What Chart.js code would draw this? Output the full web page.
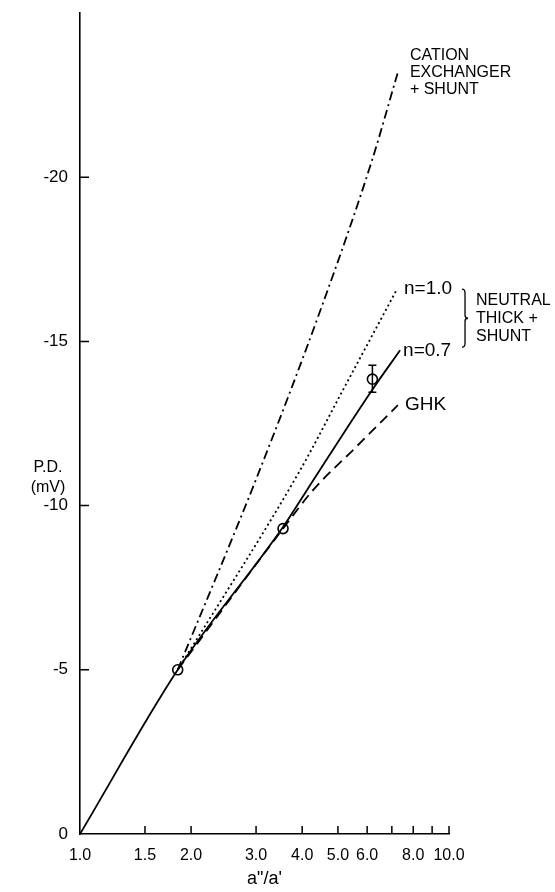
<!DOCTYPE html>
<html>
<head>
<meta charset="utf-8">
<script src="https://cdn.jsdelivr.net/npm/chart.js@4.4.0/dist/chart.umd.min.js"></script>
<style>
  html, body { margin: 0; padding: 0; background: #fff; }
</style>
</head>
<body>
<canvas id="chart" width="555" height="892"></canvas>
<script>
/* tick values on the two axes */
const xTicks = [1, 1.5, 2, 3, 4, 5, 6, 7, 8, 9, 10];
const xLabelled = [1, 1.5, 2, 3, 4, 5, 6, 8, 10];
const yTicks = [-20, -15, -10, -5, 0];

/* neutral thick membrane + shunt, n = 0.7 (solid) */
const solidX = [1.0, 1.84, 3.55, 4.12, 6.19, 7.37];
const solidY = [0, -5.0, -9.35, -10.47, -13.52, -14.73];

/* neutral thick membrane + shunt, n = 1.0 (dotted) */
const dotX = [1.84, 2.0, 3.95, 5.16, 7.23];
const dotY = [-5.0, -5.65, -11.08, -13.52, -16.59];

/* GHK (dashed) */
const ghkX = [1.84, 3.55, 4.28, 5.56, 7.27];
const ghkY = [-5.0, -9.3, -10.47, -11.75, -13.06];

/* cation exchanger + shunt (dash-dot) */
const catX = [1.84, 3.0, 4.5, 6.18, 7.27];
const catY = [-5.0, -10.8, -16.0, -20.5, -23.2];

/* measured points with error bars */
const measX = [1.84, 3.55, 6.2];
const measY = [-5.0, -9.3, -13.85];
const errLo = [null, null, -14.27];
const errHi = [null, null, -13.45];

function pts(xs, ys) { return xs.map((x, i) => ({x: x, y: ys[i]})); }

const FONT = '"Liberation Sans", Arial, sans-serif';

/* draws inward tick marks, error bars, y title and the curve labels */
const extras = {
  id: 'extras',
  afterDraw(chart) {
    const ctx = chart.ctx;
    const xs = chart.scales.x, ys = chart.scales.y;
    const area = chart.chartArea;
    ctx.save();
    ctx.strokeStyle = '#000';
    ctx.lineWidth = 1.5;
    ctx.beginPath();
    xTicks.forEach(v => {
      if (v === 1) return;
      const px = xs.getPixelForValue(v);
      ctx.moveTo(px, area.bottom);
      ctx.lineTo(px, area.bottom - 8);
    });
    yTicks.forEach(v => {
      if (v === 0) return;
      const py = ys.getPixelForValue(v);
      ctx.moveTo(area.left, py);
      ctx.lineTo(area.left + 9, py);
    });
    ctx.stroke();

    /* error bars */
    ctx.beginPath();
    measX.forEach((x, i) => {
      if (errLo[i] === null) return;
      const px = xs.getPixelForValue(x);
      const p1 = ys.getPixelForValue(errLo[i]);
      const p2 = ys.getPixelForValue(errHi[i]);
      ctx.moveTo(px, p1); ctx.lineTo(px, p2);
      ctx.moveTo(px - 4, p1); ctx.lineTo(px + 4, p1);
      ctx.moveTo(px - 4, p2); ctx.lineTo(px + 4, p2);
    });
    ctx.stroke();

    ctx.fillStyle = '#000';
    ctx.textBaseline = 'middle';

    /* y axis title, horizontal */
    ctx.font = '16px ' + FONT;
    ctx.textAlign = 'center';
    const ty = ys.getPixelForValue(-11.1);
    ctx.fillText('P.D.', 48, ty - 2);
    ctx.fillText('(mV)', 48, ty + 18);

    /* curve labels, anchored at each curve's end */
    const end = (i) => { const d = chart.getDatasetMeta(i).data; return d[d.length - 1]; };
    ctx.textAlign = 'left';
    const eSolid = end(0), eDot = end(1), eGhk = end(2), eCat = end(3);

    ctx.font = '19px ' + FONT;
    ctx.fillText('n=1.0', eDot.x + 7, eDot.y);
    ctx.fillText('n=0.7', eSolid.x + 3, eSolid.y);
    ctx.fillText('GHK', eGhk.x + 7, eGhk.y);

    ctx.font = '16px ' + FONT;
    ctx.fillText('CATION', eCat.x + 12, eCat.y - 17);
    ctx.fillText('EXCHANGER', eCat.x + 12, eCat.y);
    ctx.fillText('+ SHUNT', eCat.x + 12, eCat.y + 17);

    /* brace grouping n=1.0 and n=0.7 */
    const bx = eDot.x + 68, bt = eDot.y, bb = eSolid.y - 3, bm = (bt + bb) / 2;
    ctx.lineWidth = 1.3;
    ctx.beginPath();
    ctx.moveTo(bx - 3, bt);
    ctx.quadraticCurveTo(bx, bt, bx, bt + 4);
    ctx.lineTo(bx, bm - 3);
    ctx.quadraticCurveTo(bx, bm, bx + 3, bm);
    ctx.quadraticCurveTo(bx, bm, bx, bm + 3);
    ctx.lineTo(bx, bb - 4);
    ctx.quadraticCurveTo(bx, bb, bx - 3, bb);
    ctx.stroke();

    ctx.fillText('NEUTRAL', bx + 11, bm - 18);
    ctx.fillText('THICK +', bx + 11, bm);
    ctx.fillText('SHUNT', bx + 11, bm + 18);
    ctx.restore();
  }
};

const lineBase = {
  type: 'line',
  borderColor: '#000',
  borderWidth: 1.8,
  pointRadius: 0,
  fill: false,
  cubicInterpolationMode: 'monotone'
};

new Chart(document.getElementById('chart'), {
  data: {
    datasets: [
      Object.assign({}, lineBase, {label: 'n=0.7', data: pts(solidX, solidY)}),
      Object.assign({}, lineBase, {label: 'n=1.0', data: pts(dotX, dotY), borderDash: [2, 3]}),
      Object.assign({}, lineBase, {label: 'GHK', data: pts(ghkX, ghkY), borderDash: [10, 6]}),
      Object.assign({}, lineBase, {label: 'cation', data: pts(catX, catY), borderDash: [9, 4, 2, 4]}),
      {
        type: 'scatter',
        label: 'measured',
        data: pts(measX, measY),
        pointRadius: 5,
        pointBorderWidth: 1.6,
        pointBorderColor: '#000',
        pointBackgroundColor: '#fff'
      }
    ]
  },
  options: {
    responsive: false,
    animation: false,
    devicePixelRatio: 1,
    layout: {padding: {top: 13, right: 106, left: 0, bottom: 0}},
    plugins: {legend: {display: false}, tooltip: {enabled: false}},
    scales: {
      x: {
        type: 'logarithmic',
        min: 1,
        max: 10,
        afterBuildTicks: (s) => { s.ticks = xTicks.map(v => ({value: v})); },
        afterFit: (s) => { s.height = 58; s.paddingLeft = 0; s.paddingRight = 0; },
        grid: {display: false, drawTicks: false},
        border: {display: true, color: '#000', width: 1.6},
        ticks: {
          color: '#000',
          font: {family: FONT, size: 16},
          padding: 12,
          maxRotation: 0,
          autoSkip: false,
          callback: (v) => xLabelled.includes(v) ? v.toFixed(1) : ''
        },
        title: {display: true, text: 'a"/a\'', color: '#000', font: {family: FONT, size: 18}, padding: {top: 2, bottom: 2}}
      },
      y: {
        type: 'linear',
        min: -25,
        max: 0,
        reverse: true,
        afterBuildTicks: (s) => { s.ticks = yTicks.map(v => ({value: v})); },
        afterFit: (s) => { s.width = 80; s.paddingTop = 0; s.paddingBottom = 0; },
        grid: {display: false, drawTicks: false},
        border: {display: true, color: '#000', width: 1.6},
        ticks: {color: '#000', font: {family: FONT, size: 17}, padding: 12}
      }
    }
  },
  plugins: [extras]
});
</script>
</body>
</html>
